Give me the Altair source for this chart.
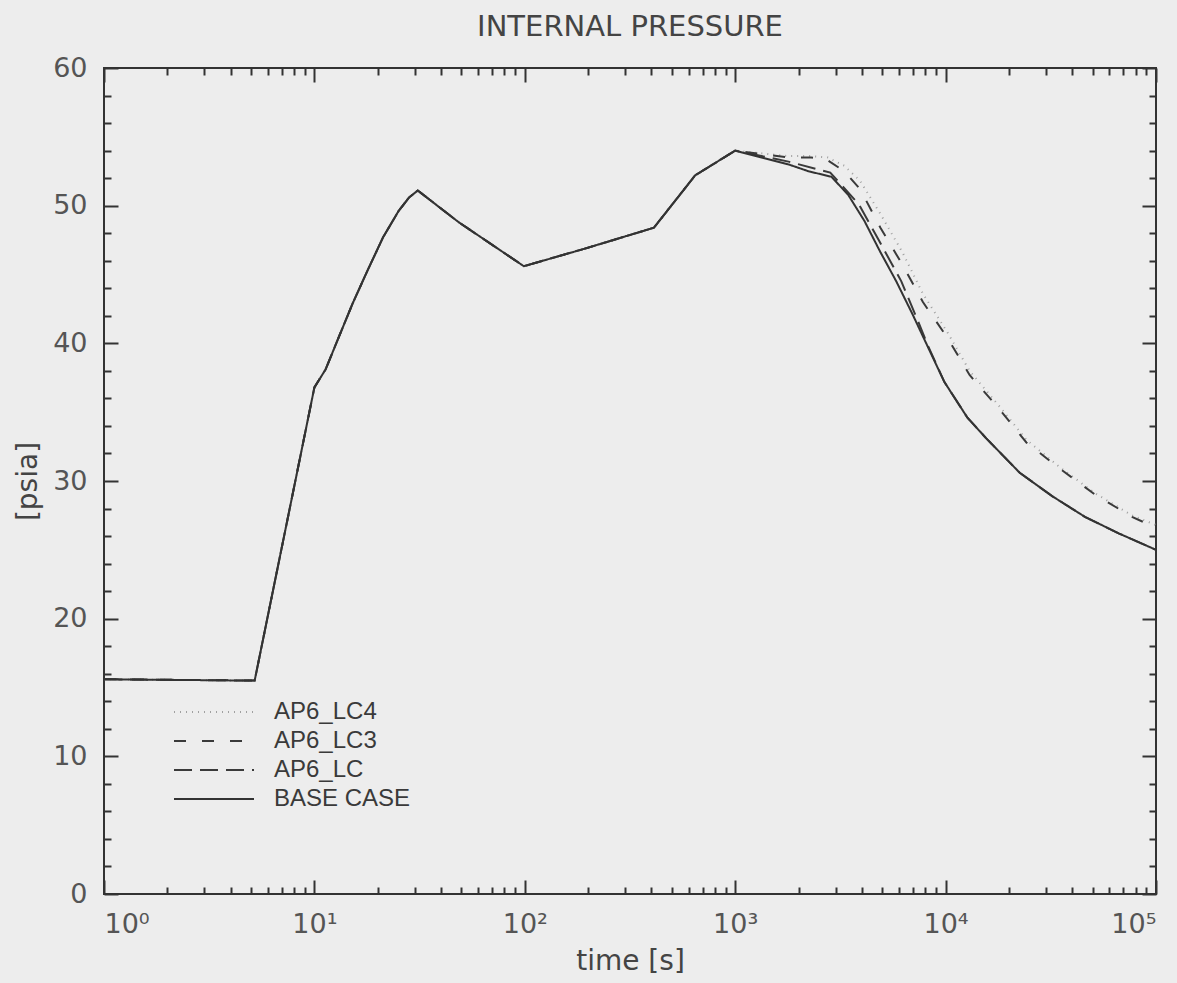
import altair as alt
import pandas as pd

W, H = 1052, 826

series_names = ["AP6_LC4", "AP6_LC3", "AP6_LC", "BASE CASE"]

# shared early history (all cases coincide up to ~1000 s)
early_t = [1, 5.2, 10, 11.3, 13.1, 15.2, 17.9, 21.2, 25.1, 28.2, 31, 48.5, 99, 195, 411, 645, 1000]
early_p = [15.6, 15.5, 36.8, 38.1, 40.5, 42.9, 45.3, 47.7, 49.6, 50.6, 51.1, 48.8, 45.6, 46.9,
           48.4, 52.2, 54.0]

base_t = [1790, 2230, 2865, 3440, 4110, 4870, 5830, 6970, 8260, 9860, 12700, 15600,
          22500, 32100, 45900, 66400, 100000]
base_p = [53.0, 52.5, 52.1, 50.8, 48.9, 46.7, 44.5, 42.1, 39.7, 37.2, 34.6, 33.1,
          30.6, 28.9, 27.4, 26.2, 25.0]

lc_t = [1790, 2830, 3870, 4890, 6160, 7400, 8260, 9860, 12700, 15600, 22500, 32100,
        45900, 66400, 100000]
lc_p = [53.2, 52.4, 50.1, 47.3, 44.5, 41.6, 39.8, 37.2, 34.6, 33.1, 30.6, 28.9,
        27.4, 26.2, 25.0]

lc3_t = [1790, 2300, 2750, 3300, 3925, 4900, 6240, 7800, 10200, 13000, 18300, 24200, 34900,
         51500, 76900, 100000]
lc3_p = [53.5, 53.5, 53.3, 52.5, 51.2, 48.4, 45.7, 43.0, 40.4, 37.7, 35.1, 32.8, 30.9,
         29.0, 27.4, 26.6]

lc4_t = [1790, 2300, 2750, 3300, 3925, 4900, 6240, 7800, 10200, 13000, 18300, 24200, 34900,
         51500, 76900, 100000]
lc4_p = [53.6, 53.6, 53.5, 52.9, 51.8, 49.4, 46.6, 43.6, 40.8, 38.0, 35.3, 33.0, 31.0,
         29.1, 27.5, 26.8]

x_major = [1, 10, 100, 1000, 10000, 100000]
x_all_ticks = [k * 10 ** d for d in range(5) for k in range(1, 10)] + [100000]
y_major = [0, 10, 20, 30, 40, 50, 60]
y_all_ticks = list(range(0, 61, 2))

rows = []
for name, tt, pp in [("AP6_LC4", lc4_t, lc4_p), ("AP6_LC3", lc3_t, lc3_p),
                     ("AP6_LC", lc_t, lc_p), ("BASE CASE", base_t, base_p)]:
    for i, (t, p) in enumerate(zip(early_t + tt, early_p + pp)):
        rows.append({"series": name, "t": t, "p": p, "i": i})
df = pd.DataFrame(rows)
df_base = df[df.series == "BASE CASE"]

xscale = alt.Scale(type="log", domain=[1, 100000])
yscale = alt.Scale(domain=[0, 60])

ink = "#333333"
label_font = "DejaVu Sans"

# long horizontal stroke sample drawn by a custom symbol path (unit size 20px -> 80px line)
legend = alt.Legend(
    title=None, orient="none", legendX=98, legendY=632,
    symbolType="M-4,0H4", symbolSize=400, symbolStrokeWidth=2,
    labelFont="Liberation Sans", labelFontSize=24, labelColor="#3a3a3a",
    labelOffset=48, rowPadding=5, padding=0,
)

lines = alt.Chart(df).mark_line(strokeWidth=2, clip=True).encode(
    x=alt.X("t:Q", scale=xscale, axis=alt.Axis(
        orient="bottom", values=x_major, ticks=False, domain=False, grid=False,
        labelExpr="'10' + ['⁰','¹','²','³','⁴','⁵'][round(log(datum.value)/LN10)]",
        labelFont=label_font, labelFontSize=27, labelColor="#555555", labelPadding=17,
        title="time [s]", titleFont=label_font, titleFontSize=28, titleFontWeight="normal",
        titleColor="#444444", titlePadding=10)),
    y=alt.Y("p:Q", scale=yscale, axis=alt.Axis(
        orient="left", values=y_major, ticks=False, domain=False, grid=False,
        labelFont=label_font, labelFontSize=27, labelColor="#555555", labelPadding=17,
        title="[psia]", titleFont=label_font, titleFontSize=28, titleFontWeight="normal",
        titleColor="#444444", titlePadding=10)),
    color=alt.Color("series:N", scale=alt.Scale(
        domain=series_names, range=["#a0a0a0", "#3a3a3a", "#3a3a3a", "#333333"]),
        legend=legend),
    strokeDash=alt.StrokeDash("series:N", scale=alt.Scale(
        domain=series_names, range=[[1, 5], [12, 16], [18, 8], [1, 0]]),
        legend=legend),
    order="i:Q",
)

tick_x = {"condition": {"test": "abs(log(datum.value)/LN10 - round(log(datum.value)/LN10)) < 0.001",
                        "value": 14}, "value": 7}
tick_y = {"condition": {"test": "datum.value % 10 == 0", "value": 14}, "value": 7}


def tick_axis(orient, offset, values, cond):
    return alt.Axis(orient=orient, offset=offset, values=values, labels=False,
                    domain=False, grid=False, tickSize=cond, tickColor=ink,
                    tickWidth=2, title=None)


ticks_a = alt.Chart(df_base).mark_line(opacity=0).encode(
    x=alt.X("t:Q", scale=xscale, axis=tick_axis("top", -H, x_all_ticks, tick_x)),
    y=alt.Y("p:Q", scale=yscale, axis=tick_axis("right", -W, y_all_ticks, tick_y)),
)
ticks_b = alt.Chart(df_base).mark_line(opacity=0).encode(
    x=alt.X("t:Q", scale=xscale, axis=tick_axis("bottom", -H, x_all_ticks, tick_x)),
    y=alt.Y("p:Q", scale=yscale, axis=tick_axis("left", -W, y_all_ticks, tick_y)),
)

chart = alt.layer(lines, ticks_a, ticks_b).resolve_axis(
    x="independent", y="independent"
).properties(
    width=W, height=H,
    autosize=alt.AutoSizeParams(type="none"),
    padding={"left": 104, "top": 68, "right": 21, "bottom": 89},
    background="#ededed",
    title=alt.TitleParams("INTERNAL PRESSURE", font=label_font, fontSize=29,
                          fontWeight="normal", color="#444444", anchor="middle",
                          offset=12),
).configure_view(stroke=ink, strokeWidth=2)

chart.save("out.html", embed_options={"renderer": "svg", "actions": False})
